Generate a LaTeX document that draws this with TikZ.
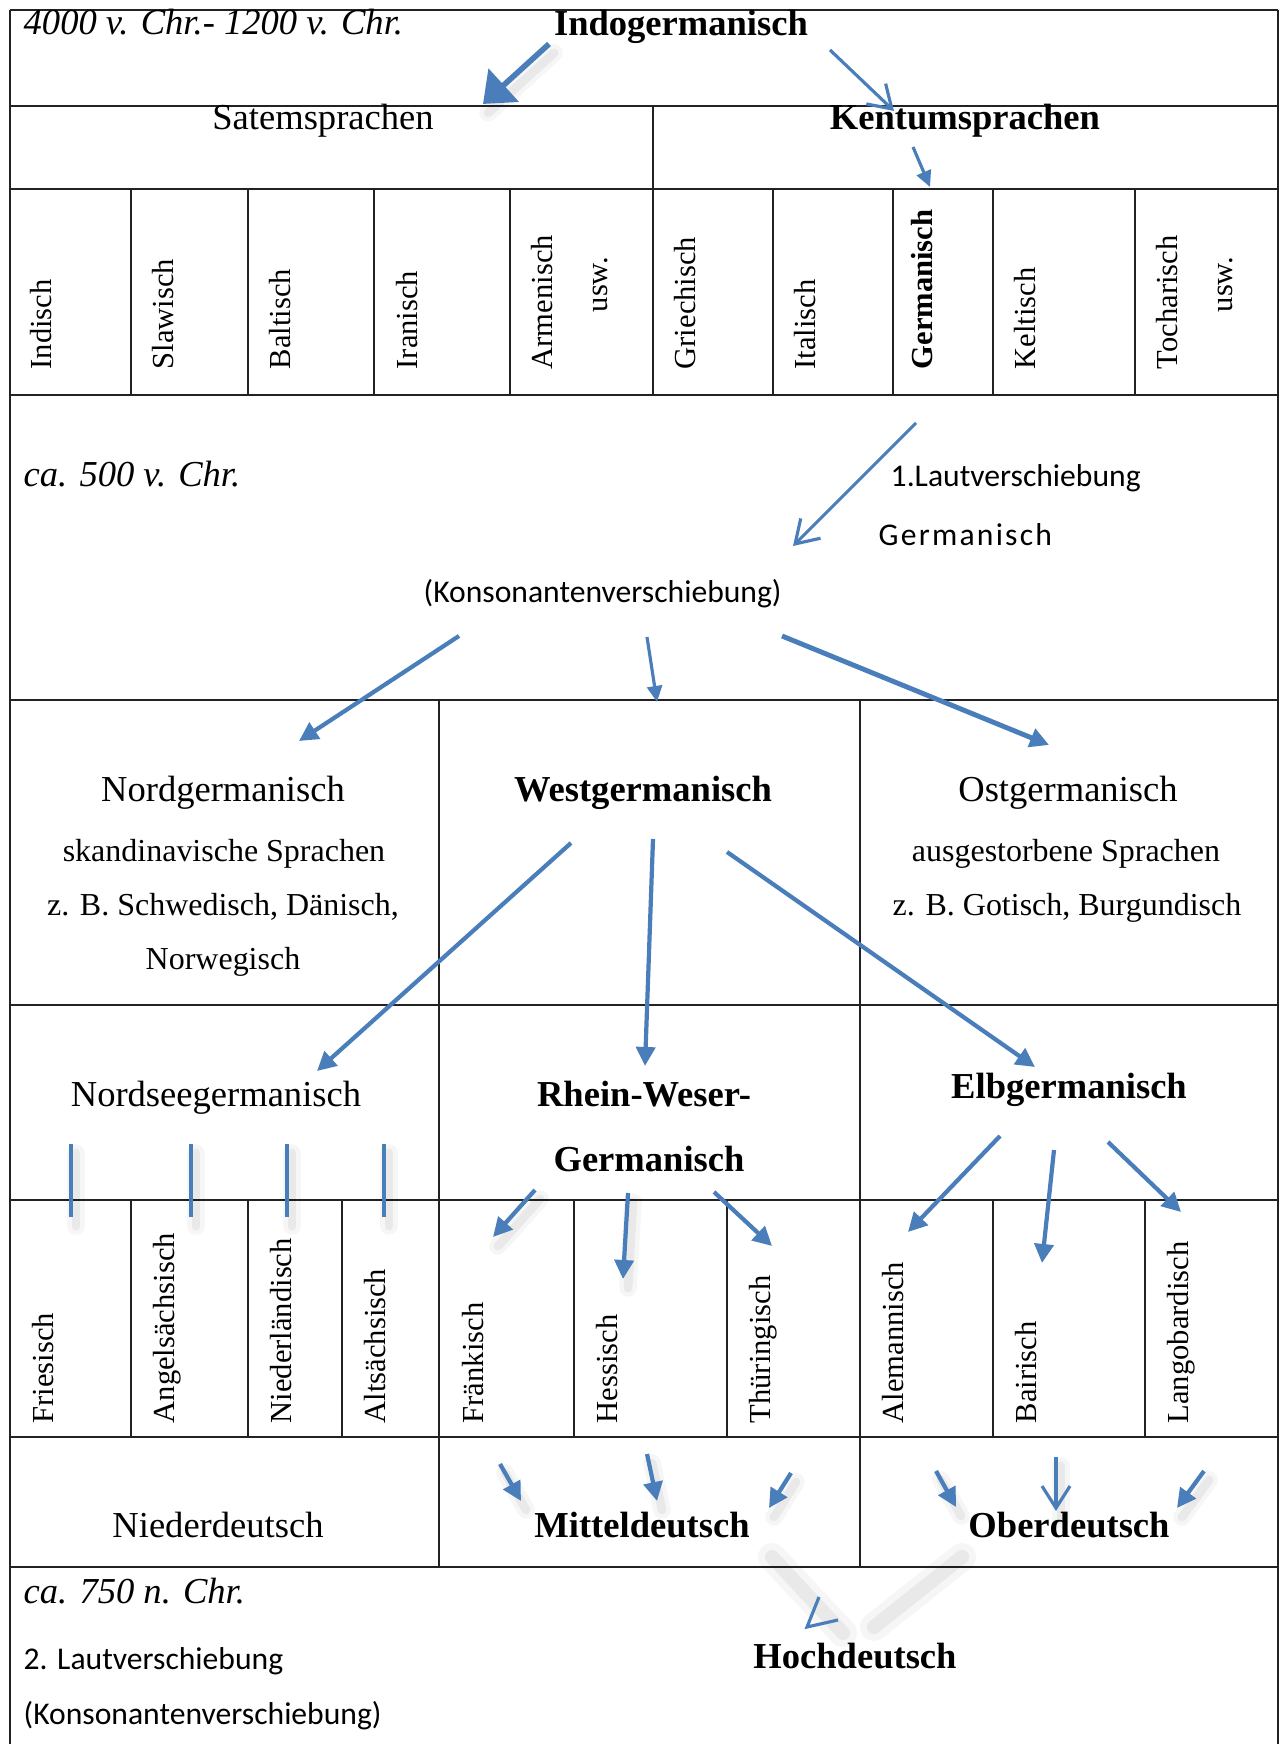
\documentclass[tikz,border=0pt]{standalone}
\usepackage{fontspec}
\setmainfont{Liberation Serif}
\newfontfamily\calibri{Carlito}
\usepackage{tikz}
\usetikzlibrary{arrows.meta,positioning,calc}
\definecolor{wordblue}{HTML}{4A7EBB}
\definecolor{rulegray}{HTML}{222222}
\newcommand{\tnr}{\fontsize{10.4}{12.5}\selectfont}
\newcommand{\tnrsub}{\fontsize{9.1}{11}\selectfont}
\newcommand{\tnrsmall}{\fontsize{8.7}{10.4}\selectfont}
\newcommand{\cbr}{\calibri\fontsize{9}{11}\selectfont}

\begin{document}
\begin{tikzpicture}[x=1cm,y=1cm,
    lab/.style={inner sep=0pt,font=\tnr,anchor=base},
    sublab/.style={inner sep=0pt,font=\tnrsub,anchor=base},
    lleft/.style={inner sep=0pt,font=\tnr,anchor=base west},
    vlab/.style={inner sep=0pt,font=\tnrsmall,rotate=90,anchor=base west},
    clab/.style={inner sep=0pt,font=\cbr,anchor=base west},
    hrule/.style={line width=0.8pt,draw=rulegray},
    vrule/.style={line width=0.5pt,draw=rulegray},
    arr/.style={draw=wordblue,line width=1.2pt,-{Triangle[length=1.9mm,width=1.9mm]}},
    thinarr/.style={draw=wordblue,line width=0.9pt,-{Triangle[length=1.6mm,width=1.5mm]}},
    openarr/.style={draw=wordblue,line width=0.9pt,-{Straight Barb[length=2.2mm,width=2.8mm]}},
    bigarr/.style={draw=wordblue,line width=1.6pt,-{Triangle[length=2.8mm,width=4.4mm]}},
    shadowed/.style={
      preaction={-,draw=black,draw opacity=0.035,line width=5pt,line cap=round,transform canvas={shift={(0.5mm,-0.9mm)}}},
      preaction={-,draw=black,draw opacity=0.05,line width=2.5pt,line cap=round,transform canvas={shift={(0.5mm,-0.9mm)}}}},
    blurline/.style={draw=black,line cap=round,draw opacity=#1}]
  \useasboundingbox (0,0) rectangle (12.80,17.44);

  % table rules
  \foreach \y in {17.34,16.38,15.55,13.49,10.44,7.39,5.44,3.07,1.77}
    \draw[hrule] (0.10,\y) -- (12.78,\y);
  \draw[hrule] (0.10,17.34) -- (0.10,0);
  \draw[hrule] (12.78,17.34) -- (12.78,0);
  \draw[vrule] (6.53,16.38) -- (6.53,15.55);
  \foreach \x in {1.31,2.48,3.74,5.10,6.53,7.73,8.93,9.93,11.35}
    \draw[vrule] (\x,15.55) -- (\x,13.49);
  \foreach \x in {4.39,8.60}
    \draw[vrule] (\x,10.44) -- (\x,5.44);
  \foreach \x in {1.31,2.48,3.42,4.39,5.74,7.27,8.60,9.93,11.45}
    \draw[vrule] (\x,5.44) -- (\x,3.07);
  \foreach \x in {4.39,8.60}
    \draw[vrule] (\x,3.07) -- (\x,1.77);

  % labels
  \node[lleft,font=\tnr\itshape] (era1) at (0.23,17.09) {4000 v. Chr.- 1200 v. Chr.};
  \node[lab,font=\tnr\bfseries] (indo) at (6.81,17.08) {Indogermanisch};
  \node[lab] (satem) at (3.23,16.14) {Satemsprachen};
  \node[lab,font=\tnr\bfseries] (kentum) at (9.65,16.14) {Kentumsprachen};

  \node[vlab] (indisch) at (0.52,13.74) {Indisch};
  \node[vlab] (slaw) at (1.73,13.74) {Slawisch};
  \node[vlab] (balt) at (2.90,13.74) {Baltisch};
  \node[vlab] (iran) at (4.17,13.74) {Iranisch};
  \node[vlab] (armen) at (5.52,13.74) {Armenisch};
  \node[vlab] (uswA) at (6.07,14.31) {usw.};
  \node[vlab] (griech) at (6.95,13.74) {Griechisch};
  \node[vlab] (ital) at (8.15,13.74) {Italisch};
  \node[vlab,font=\tnrsmall\bfseries] (germA) at (9.32,13.74) {Germanisch};
  \node[vlab] (kelt) at (10.35,13.74) {Keltisch};
  \node[vlab] (tochar) at (11.77,13.74) {Tocharisch};
  \node[vlab] (uswB) at (12.32,14.31) {usw.};

  \node[lleft,font=\tnr\itshape] (era2) at (0.23,12.57) {ca. 500 v. Chr.};
  \node[clab] (laut1) at (8.90,12.57) {1.Lautverschiebung};
  \node[clab] (germB) at (8.78,11.98) {\addfontfeature{LetterSpace=7}Germanisch};
  \node[clab] (kons1) at (4.23,11.41) {(Konsonantenverschiebung)};

  \node[lab] (nord) at (2.23,9.42) {Nordgermanisch};
  \node[lab,font=\tnr\bfseries] (west) at (6.43,9.42) {Westgermanisch};
  \node[lab] (ost) at (10.68,9.42) {Ostgermanisch};
  \node[sublab] (nordA) at (2.24,8.82) {skandinavische Sprachen};
  \node[sublab] (nordB) at (2.23,8.28) {z. B. Schwedisch, Dänisch,};
  \node[sublab] (nordC) at (2.23,7.74) {Norwegisch};
  \node[sublab] (ostA) at (10.66,8.82) {ausgestorbene Sprachen};
  \node[sublab] (ostB) at (10.67,8.28) {z. B. Gotisch, Burgundisch};

  \node[lab] (nordsee) at (2.16,6.37) {Nordseegermanisch};
  \node[lab,font=\tnr\bfseries] (rwgA) at (6.44,6.37) {Rhein-Weser-};
  \node[lab,font=\tnr\bfseries] (rwgB) at (6.49,5.72) {Germanisch};
  \node[lab,font=\tnr\bfseries] (elb) at (10.69,6.45) {Elbgermanisch};

  \node[vlab] (fries) at (0.53,3.20) {Friesisch};
  \node[vlab] (angel) at (1.74,3.20) {Angelsächsisch};
  \node[vlab] (ndl) at (2.91,3.20) {Niederländisch};
  \node[vlab] (alts) at (3.85,3.20) {Altsächsisch};
  \node[vlab] (frank) at (4.83,3.20) {Fränkisch};
  \node[vlab] (hess) at (6.17,3.20) {Hessisch};
  \node[vlab] (thuer) at (7.70,3.20) {Thüringisch};
  \node[vlab] (alem) at (9.03,3.20) {Alemannisch};
  \node[vlab] (bair) at (10.36,3.20) {Bairisch};
  \node[vlab] (lango) at (11.88,3.20) {Langobardisch};

  \node[lab] (nieder) at (2.18,2.06) {Niederdeutsch};
  \node[lab,font=\tnr\bfseries] (mittel) at (6.42,2.06) {Mitteldeutsch};
  \node[lab,font=\tnr\bfseries] (ober) at (10.69,2.06) {Oberdeutsch};

  \node[lleft,font=\tnr\itshape] (era3) at (0.23,1.40) {ca. 750 n. Chr.};
  \node[clab] (laut2) at (0.23,0.74) {2. Lautverschiebung};
  \node[clab] (kons2) at (0.23,0.20) {(Konsonantenverschiebung)};
  \node[lab,font=\tnr\bfseries] (hoch) at (8.55,0.75) {Hochdeutsch};

  % arrow ends
  \coordinate (indoL) at (5.49,17.00);  \coordinate (satemT) at (4.83,16.40);
  \coordinate (indoR) at (8.30,16.94);  \coordinate (kentumT) at (8.94,16.33);
  \coordinate (kentumB) at (9.13,15.97); \coordinate (germAT) at (9.30,15.57);
  \coordinate (germAB) at (9.16,13.21); \coordinate (germBT) at (7.93,11.98);
  \coordinate (konsL) at (4.59,11.08);  \coordinate (nordT) at (2.99,10.03);
  \coordinate (konsM) at (6.47,11.07);  \coordinate (westT) at (6.57,10.42);
  \coordinate (konsR) at (7.82,11.08);  \coordinate (ostT) at (10.49,9.99);
  \coordinate (westL) at (5.71,9.01);   \coordinate (nordseeT) at (3.17,6.73);
  \coordinate (westM) at (6.53,9.05);   \coordinate (rwgT) at (6.45,6.78);
  \coordinate (westR) at (7.27,8.92);   \coordinate (elbT) at (10.35,6.77);
  \coordinate (rwgL) at (5.35,5.54);    \coordinate (frankT) at (4.93,5.07);
  \coordinate (rwgM) at (6.28,5.51);    \coordinate (hessT) at (6.23,4.65);
  \coordinate (rwgR) at (7.14,5.52);    \coordinate (thuerT) at (7.72,4.98);
  \coordinate (elbL) at (10.00,6.08);   \coordinate (alemT) at (9.08,5.12);
  \coordinate (elbM) at (10.54,5.94);   \coordinate (bairT) at (10.42,4.81);
  \coordinate (elbR) at (11.08,6.02);   \coordinate (langoT) at (11.81,5.32);
  \coordinate (frankB) at (5.00,2.80);  \coordinate (mittelL) at (5.21,2.43);
  \coordinate (hessB) at (6.47,2.90);   \coordinate (mittelM) at (6.57,2.43);
  \coordinate (thuerB) at (7.91,2.71);  \coordinate (mittelR) at (7.69,2.36);
  \coordinate (alemB) at (9.36,2.73);   \coordinate (oberL) at (9.56,2.37);
  \coordinate (bairB) at (10.56,2.87);  \coordinate (oberM) at (10.56,2.33);
  \coordinate (langoB) at (12.04,2.73); \coordinate (oberR) at (11.77,2.36);
  \coordinate (mittelS) at (7.72,1.87); \coordinate (hochL) at (8.43,1.11);
  \coordinate (oberS) at (9.62,1.87);   \coordinate (hochR) at (8.74,1.17);
  \coordinate (tipA) at (8.19,1.47); \coordinate (tipB) at (8.07,1.17); \coordinate (tipC) at (8.38,1.24);

  % arrows
  \draw[bigarr,shadowed] (indoL) -- (satemT);
  \draw[openarr] (indoR) -- (kentumT);
  \draw[thinarr] (kentumB) -- (germAT);
  \draw[openarr] (germAB) -- (germBT);
  \draw[arr] (konsL) -- (nordT);
  \draw[thinarr] (konsM) -- (westT);
  \draw[arr,line width=1.4pt] (konsR) -- (ostT);
  \draw[arr] (westL) -- (nordseeT);
  \draw[arr] (westM) -- (rwgT);
  \draw[arr] (westR) -- (elbT);
  \foreach \x in {0.71,1.91,2.87,3.84}
    \draw[shadowed,draw=wordblue,line width=0.9pt] (\x,6.00) coordinate (nsTop) -- (\x,5.27) coordinate (nsEnd);
  \draw[arr,shadowed] (rwgL) -- (frankT);
  \draw[arr,shadowed] (rwgM) -- (hessT);
  \draw[arr] (rwgR) -- (thuerT);
  \draw[arr] (elbL) -- (alemT);
  \draw[arr] (elbM) -- (bairT);
  \draw[arr] (elbR) -- (langoT);
  \draw[arr,shadowed] (frankB) -- (mittelL);
  \draw[arr,shadowed] (hessB) -- (mittelM);
  \draw[arr,shadowed] (thuerB) -- (mittelR);
  \draw[arr,shadowed] (alemB) -- (oberL);
  \draw[openarr,shadowed] (bairB) -- (oberM);
  \draw[arr,shadowed] (langoB) -- (oberR);
  \draw[blurline=0.035,line width=8pt] (mittelS) -- (hochL);
  \draw[blurline=0.05,line width=4pt] (mittelS) -- (hochL);
  \draw[blurline=0.035,line width=8pt] (oberS) -- (hochR);
  \draw[blurline=0.05,line width=4pt] (oberS) -- (hochR);
  \draw[wordblue,line width=0.9pt] (tipA) -- (tipB) -- (tipC);
\end{tikzpicture}
\end{document}
